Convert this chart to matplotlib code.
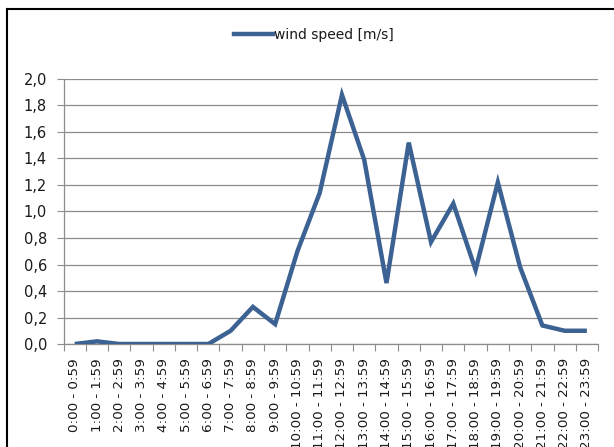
import matplotlib
matplotlib.use('Agg')
import matplotlib.pyplot as plt
from matplotlib.lines import Line2D
from matplotlib.ticker import FixedLocator, NullFormatter

LINE = '#3b6292'
GRID = '#8c8c8c'
TEXT = '#1a1a1a'

HOURS = [f'{h}:00 - {h}:59' for h in range(24)]
WIND = [0.00, 0.02, 0.00, 0.00, 0.00, 0.00, 0.00, 0.10, 0.28, 0.15,
        0.70, 1.14, 1.88, 1.39, 0.46, 1.52, 0.77, 1.06, 0.56, 1.22,
        0.58, 0.14, 0.10, 0.10]
Y_TICKS = [0.0, 0.2, 0.4, 0.6, 0.8, 1.0, 1.2, 1.4, 1.6, 1.8, 2.0]

plt.rcParams['font.family'] = ['DejaVu Sans']

fig = plt.figure(figsize=(6.14, 4.47), dpi=100, facecolor='white')
ax = fig.add_axes([0.1036, 0.2304, 0.8704, 0.5929])

x = list(range(len(HOURS)))
ax.plot(x, WIND, color=LINE, linewidth=3.2, solid_joinstyle='miter',
        solid_capstyle='butt', label='wind speed [m/s]', zorder=3)

ax.set_xlim(-0.5, len(HOURS) - 0.5)
ax.set_ylim(0, 2.0)
ax.set_yticks(Y_TICKS)
ax.set_yticklabels([f'{v:.1f}'.replace('.', ',') for v in Y_TICKS],
                   fontsize=10.5, color=TEXT)
ax.set_xticks(x)
ax.set_xticklabels(HOURS, rotation=90, fontsize=9.7, color=TEXT)
ax.xaxis.set_minor_locator(FixedLocator([i - 0.5 for i in range(len(HOURS) + 1)]))
ax.xaxis.set_minor_formatter(NullFormatter())
ax.tick_params(axis='x', which='major', length=0, pad=10)
ax.tick_params(axis='x', which='minor', length=5, color=GRID, width=0.8)
ax.tick_params(axis='y', length=5, color=GRID, width=0.8, pad=7)

ax.grid(axis='y', color=GRID, linewidth=0.9)
ax.set_axisbelow(True)
for side in ['top', 'right']:
    ax.spines[side].set_visible(False)
for side in ['left', 'bottom']:
    ax.spines[side].set_color(GRID)
    ax.spines[side].set_linewidth(0.9)

handle = Line2D([], [], color=LINE, linewidth=3.2)
fig.legend([handle], ['wind speed [m/s]'], loc='center',
           bbox_to_anchor=(0.511, 0.921), frameon=False, fontsize=10,
           handlelength=2.8, handletextpad=0.08, labelcolor=TEXT)

# outer chart border (only left and top edges visible in the frame)
fig.add_artist(Line2D([7 / 614, 7 / 614], [0, 1 - 9 / 447],
                      transform=fig.transFigure, color='black', linewidth=1.5))
fig.add_artist(Line2D([7 / 614, 1], [1 - 9 / 447, 1 - 9 / 447],
                      transform=fig.transFigure, color='black', linewidth=1.5))

plt.savefig('out.png', dpi=100, facecolor='white')
